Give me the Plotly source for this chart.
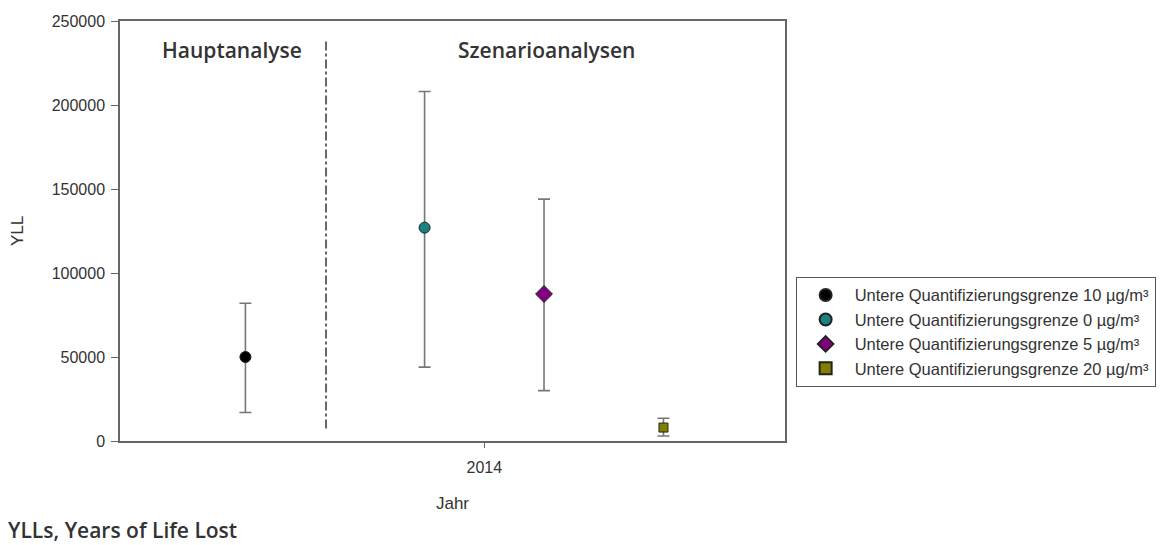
import plotly.graph_objects as go

# ---- data ----
series_names = [
    "Untere Quantifizierungsgrenze 10 µg/m³",
    "Untere Quantifizierungsgrenze 0 µg/m³",
    "Untere Quantifizierungsgrenze 5 µg/m³",
    "Untere Quantifizierungsgrenze 20 µg/m³",
]
year = 2014
x_offsets = [-0.8, -0.2, 0.2, 0.6]          # horizontal jitter around the year
yll_values = [50000, 127000, 87500, 8000]
yll_upper = [82000, 208000, 144000, 13500]
yll_lower = [17000, 44000, 30000, 3000]
marker_colors = ["#000000", "#1b8080", "#800080", "#808000"]
marker_symbols = ["circle", "circle", "diamond", "square"]
marker_sizes = [11, 11, 13, 9]
y_ticks = [0, 50000, 100000, 150000, 200000, 250000]
x_ticks = [2014]
section_labels = ["Hauptanalyse", "Szenarioanalysen"]
divider_offset = -0.53
divider_span = [7500, 238500]

TICK_FONT = "Liberation Sans, Arial, sans-serif"
TITLE_FONT = "Open Sans, Noto Sans, sans-serif"

fig = go.Figure()
for name, off, v, hi, lo, c, s, sz in zip(series_names, x_offsets, yll_values, yll_upper,
                                          yll_lower, marker_colors, marker_symbols, marker_sizes):
    fig.add_trace(go.Scatter(
        x=[year + off], y=[v], name=name, mode="markers",
        marker=dict(color=c, symbol=s, size=sz, line=dict(color="#222222", width=1)),
        error_y=dict(type="data", symmetric=False, array=[hi - v], arrayminus=[v - lo],
                     color="#777777", thickness=1.6, width=6),
    ))

# dash-dot divider between main and scenario analyses
fig.add_shape(type="line", xref="x", yref="y",
              x0=year + divider_offset, x1=year + divider_offset,
              y0=divider_span[0], y1=divider_span[1],
              line=dict(color="#666666", width=2, dash="dashdot"))

for lbl, px in zip(section_labels, [0.168, 0.642]):
    fig.add_annotation(text=lbl, xref="paper", yref="paper", x=px, y=0.932,
                       xanchor="center", yanchor="middle", showarrow=False,
                       font=dict(family=TITLE_FONT, size=21, weight=600, color="#333333"))
fig.add_annotation(text="YLLs, Years of Life Lost", xref="paper", yref="paper",
                   x=-0.172, y=-0.213, xanchor="left", yanchor="middle", showarrow=False,
                   font=dict(family=TITLE_FONT, size=21, weight=600, color="#333333"))

fig.update_layout(
    width=1160, height=537,
    margin=dict(l=112, r=376, t=13, b=104),
    paper_bgcolor="white", plot_bgcolor="white",
    font=dict(family=TICK_FONT, size=16, color="#333333"),
    showlegend=True,
    legend=dict(x=1.016, y=0.391, xanchor="left", yanchor="top",
                bordercolor="#555555", borderwidth=1, bgcolor="white",
                font=dict(family=TICK_FONT, size=16.5, color="#333333"),
                tracegroupgap=0, itemsizing="constant", itemwidth=48),
)
fig.update_xaxes(range=[2012.78, 2015.007], tickvals=x_ticks, ticktext=[str(t) for t in x_ticks],
                 showgrid=False, zeroline=False, showline=True, linecolor="#666666", linewidth=1.5,
                 mirror=True, ticks="outside", ticklen=5, tickcolor="#666666", ticklabelstandoff=6,
                 automargin=False,
                 title=dict(text="Jahr", standoff=22, font=dict(family=TICK_FONT, size=17)))
fig.update_yaxes(range=[0, 250000], tickvals=y_ticks, tickformat="d",
                 showgrid=False, zeroline=False, showline=True, linecolor="#666666", linewidth=1.5,
                 mirror=True, ticks="outside", ticklen=7, tickcolor="#666666", ticklabelstandoff=3,
                 automargin=False,
                 title=dict(text="YLL", standoff=30, font=dict(family=TICK_FONT, size=17)))

fig.write_html("out.html")
